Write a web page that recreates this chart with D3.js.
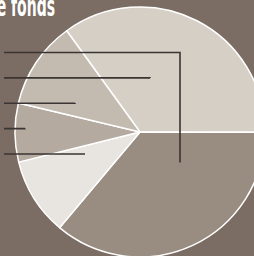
<!DOCTYPE html>
<html><head><meta charset="utf-8">
<script src="https://cdn.jsdelivr.net/npm/d3@7"></script>
<style>html,body{margin:0;padding:0;background:#7b6c64;overflow:hidden}</style>
</head><body>
<svg id="c" width="254" height="256"></svg>
<script>
const categories = ["A", "B", "C", "D", "E"];
const values = [35.0, 36.1, 10.0, 7.6, 11.3];
const colors = ["#d5cfc6", "#998c80", "#e8e4df", "#b4aaa0", "#c3bbb0"];
// leader order from top: which slice each leader points at
const leaderSlice = [1, 0, 4, 3, 2];

const svg = d3.select("#c");
svg.append("rect").attr("width",254).attr("height",256).attr("fill","#7b6c64");
const cx = 140, cy = 132, R = 125;
const start = -35.9 * Math.PI / 180;
const pie = d3.pie().sort(null).startAngle(start).endAngle(start + 2*Math.PI);
const arc = d3.arc().innerRadius(0).outerRadius(R);
const g = svg.append("g").attr("transform", `translate(${cx},${cy})`);
g.selectAll("path").data(pie(values)).join("path")
  .attr("d", arc).attr("fill", (d,i)=>colors[i])
  .attr("stroke", "#fff").attr("stroke-width", 1.5).attr("stroke-linejoin","round");

const leaderY = d3.scalePoint().domain(d3.range(5)).range([52.5, 154]);
const leaderEnd = [[180, 162.5], [150, 78], [75, 103], [25, 128.5], [85, 154]];
leaderSlice.forEach((s, k) => {
  const y = leaderY(k);
  const e = leaderEnd[k];
  const pts = e[1] !== y ? [[4, y], [e[0], y], [e[0], e[1]]] : [[4, y], [e[0], y]];
  svg.append("path").attr("d", d3.line()(pts))
    .attr("fill","none").attr("stroke","#3a3433").attr("stroke-width",1.6);
});

const font = "'DejaVu Sans Condensed','DejaVu Sans',sans-serif";
const fs = 28;
const probe = svg.append("text").attr("font-family",font).attr("font-weight","bold")
  .attr("font-size",fs).text("fonds");
const w = probe.node().getComputedTextLength();
probe.remove();
const sx = 44 / w;
svg.append("text").attr("transform", `translate(55,15.5) scale(${sx},1)`)
  .attr("text-anchor","end")
  .attr("font-family",font).attr("font-weight","bold").attr("font-size",fs).attr("fill","#fff")
  .text("Sources de fonds");
</script>
</body></html>
